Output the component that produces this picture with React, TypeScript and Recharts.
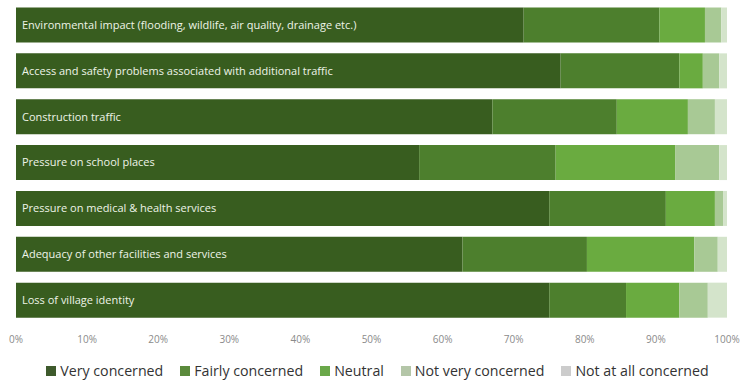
import { BarChart, Bar, XAxis, YAxis, Legend, LabelList } from 'recharts';

const categories = [
  'Environmental impact (flooding, wildlife, air quality, drainage etc.)',
  'Access and safety problems associated with additional traffic',
  'Construction traffic',
  'Pressure on school places',
  'Pressure on medical & health services',
  'Adequacy of other facilities and services',
  'Loss of village identity',
];

const veryConcerned = [71.4, 76.6, 67.0, 56.7, 75.0, 62.8, 75.0];
const fairlyConcerned = [19.1, 16.7, 17.5, 19.2, 16.4, 17.5, 10.8];
const neutral = [6.4, 3.3, 10.0, 16.8, 6.9, 15.1, 7.5];
const notVeryConcerned = [2.3, 2.3, 3.8, 6.2, 1.2, 3.3, 4.0];
const notAtAllConcerned = [0.8, 1.1, 1.7, 1.1, 0.5, 1.3, 2.7];

const xTicks = [0, 10, 20, 30, 40, 50, 60, 70, 80, 90, 100];

const data = categories.map((name, i) => ({
  name,
  very: veryConcerned[i],
  fairly: fairlyConcerned[i],
  neutral: neutral[i],
  notVery: notVeryConcerned[i],
  notAtAll: notAtAllConcerned[i],
}));

const FONT = '"Open Sans", "Noto Sans", sans-serif';

const SERIES = [
  { key: 'very', name: 'Very concerned', color: '#385d1f', icon: '#3e5a2c' },
  { key: 'fairly', name: 'Fairly concerned', color: '#4d7f2d', icon: '#5b8a3c' },
  { key: 'neutral', name: 'Neutral', color: '#6aab40', icon: '#6aa84a' },
  { key: 'notVery', name: 'Not very concerned', color: '#a8c995', icon: '#b4c6a8' },
  { key: 'notAtAll', name: 'Not at all concerned', color: '#d4e4cb', icon: '#cccccc' },
];

// category name drawn inside the dark segment
const InsideName = (props: any) => {
  const { x, y, height, value } = props;
  return (
    <text
      x={x + 6}
      y={y + height / 2}
      dy="0.35em"
      fill="#eef4e8"
      fontSize={11}
      fontFamily={FONT}
    >
      {value}
    </text>
  );
};

// legend kept in series order
const LegendContent = () => (
  <div
    style={{
      display: 'flex',
      justifyContent: 'center',
      gap: 17,
      fontFamily: FONT,
      fontSize: 14.2,
      color: '#333',
      marginLeft: 12,
      marginTop: 8,
    }}
  >
    {SERIES.map((s) => (
      <span key={s.key} style={{ display: 'flex', alignItems: 'center' }}>
        <span style={{ width: 10, height: 10, background: s.icon, marginRight: 4, display: 'inline-block' }} />
        {s.name}
      </span>
    ))}
  </div>
);

export default function App() {
  return (
    <div style={{ position: 'absolute', left: 0, top: 0, background: '#fff' }}>
      <BarChart
        width={742}
        height={383}
        data={data}
        layout="vertical"
        margin={{ top: 2, right: 15, bottom: 0, left: 16 }}
        barCategoryGap="12%"
      >
        <XAxis
          type="number"
          domain={[0, 100]}
          ticks={xTicks}
          tickFormatter={(v) => `${v}%`}
          axisLine={false}
          tickLine={false}
          tickMargin={7}
          height={30}
          interval={0}
          tick={{ fill: '#8a8a8a', fontSize: 10, fontFamily: FONT }}
        />
        <YAxis type="category" dataKey="name" hide />
        <Legend verticalAlign="bottom" height={30} content={<LegendContent />} />
        {SERIES.map((s, i) => (
          <Bar
            key={s.key}
            dataKey={s.key}
            name={s.name}
            stackId="a"
            fill={s.color}
            isAnimationActive={false}
          >
            {i === 0 && <LabelList dataKey="name" content={<InsideName />} />}
          </Bar>
        ))}
      </BarChart>
    </div>
  );
}
